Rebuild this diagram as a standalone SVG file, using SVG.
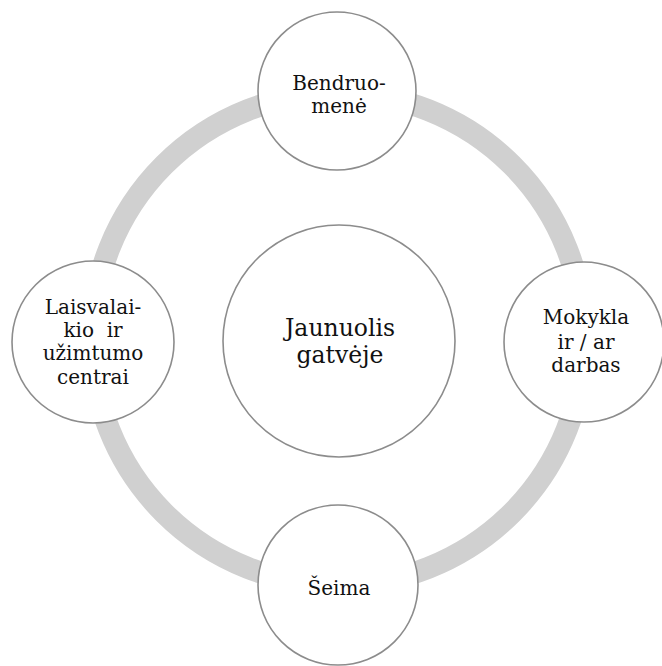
<svg xmlns="http://www.w3.org/2000/svg" width="662" height="666" viewBox="0 0 662 666">
<style>
.node{fill:#ffffff;stroke:#8c8c8c;stroke-width:1.6}
.t{font-family:"DejaVu Serif",serif;font-size:20px;fill:#111111;text-anchor:middle;white-space:pre}
.c{font-size:23.5px}
</style>
<rect width="662" height="666" fill="#ffffff"/>
<g id="connectors">
<circle cx="338" cy="339" r="246" fill="none" stroke="#d0d0d0" stroke-width="22"/>
</g>
<g id="center">
<circle class="node" cx="339" cy="341" r="116"/>
<text class="t c" x="340" y="336">Jaunuolis</text>
<text class="t c" x="340" y="363">gatvėje</text>
</g>
<g id="top">
<circle class="node" cx="337" cy="91" r="79"/>
<text class="t" x="339" y="90">Bendruo-</text>
<text class="t" x="339" y="113">menė</text>
</g>
<g id="left">
<circle class="node" cx="93" cy="342" r="81"/>
<text class="t" x="93" y="314">Laisvalai-</text>
<text class="t" x="93" y="337">kio  ir</text>
<text class="t" x="93" y="360">užimtumo</text>
<text class="t" x="93" y="384">centrai</text>
</g>
<g id="right">
<circle class="node" cx="584" cy="342" r="80"/>
<text class="t" x="586" y="324">Mokykla</text>
<text class="t" x="586" y="349">ir / ar</text>
<text class="t" x="586" y="372">darbas</text>
</g>
<g id="bottom">
<circle class="node" cx="338" cy="585" r="80"/>
<text class="t" x="339" y="595">Šeima</text>
</g>
</svg>
